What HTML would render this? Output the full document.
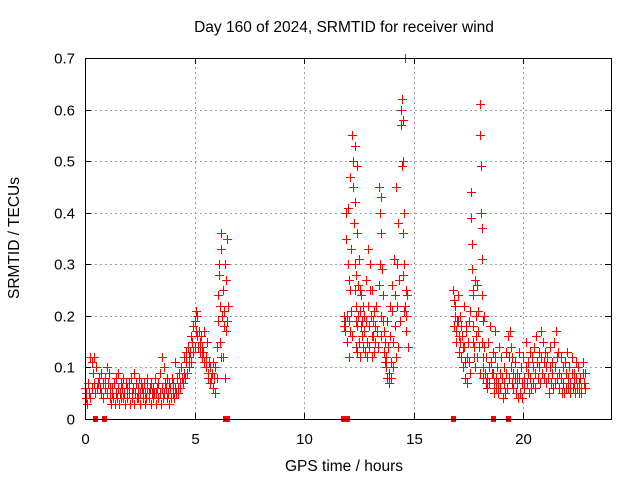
<!DOCTYPE html>
<html><head><meta charset="utf-8"><style>
html,body{margin:0;padding:0;background:#fff;}
svg{display:block;font-family:"Liberation Sans",sans-serif;}
</style></head><body>
<svg id="chart" width="640" height="480" viewBox="0 0 640 480" xmlns="http://www.w3.org/2000/svg">
<rect width="640" height="480" fill="#fff"/>
<text x="344" y="32" font-size="15.5" text-anchor="middle" fill="#000">Day 160 of 2024, SRMTID for receiver wind</text>
<text x="344" y="471" font-size="15.5" text-anchor="middle" fill="#000">GPS time / hours</text>
<text transform="translate(19,238) rotate(-90)" font-size="15.5" text-anchor="middle" fill="#000">SRMTID / TECUs</text>
<g id="grid"></g>
<g id="ticks"></g>
<g id="marks"></g>
<rect x="85.5" y="58.5" width="526" height="361" fill="none" stroke="#000" stroke-width="1"/>
</svg>
<script>
const xTicks = [0,5,10,15,20];
const yTicks = [0,0.1,0.2,0.3,0.4,0.5,0.6,0.7];
const yTickLabels = ["0","0.1","0.2","0.3","0.4","0.5","0.6","0.7"];
const sampleTimes = [0.0,0.1,0.2,0.3,0.4,0.5,0.6,0.7,0.8,0.9,1.0,1.1,1.2,1.3,1.4,1.5,1.6,1.7,1.8,1.9,2.0,2.1,2.2,2.3,2.4,2.5,2.6,2.7,2.8,2.9,3.0,3.1,3.2,3.3,3.4,3.5,3.6,3.7,3.8,3.9,4.0,4.1,4.2,4.3,4.4,4.5,4.6,4.7,4.8,4.9,5.0,5.1,5.2,5.3,5.4,5.5,5.6,5.7,5.8,5.9,6.0,6.1,6.2,6.3,6.4,6.5,
11.8,11.9,12.0,12.1,12.2,12.3,12.4,12.5,12.6,12.7,12.8,12.9,13.0,13.1,13.2,13.3,13.4,13.5,13.6,13.7,13.8,13.9,14.0,14.1,14.2,14.3,14.4,14.5,14.6,14.7,
16.8,16.9,17.0,17.1,17.2,17.3,17.4,17.5,17.6,17.7,17.8,17.9,18.0,18.1,18.2,18.3,18.4,18.5,18.6,18.7,18.8,18.9,19.0,19.1,19.2,19.3,19.4,19.5,19.6,19.7,19.8,19.9,20.0,20.1,20.2,20.3,20.4,20.5,20.6,20.7,20.8,20.9,21.0,21.1,21.2,21.3,21.4,21.5,21.6,21.7,21.8,21.9,22.0,22.1,22.2,22.3,22.4,22.5,22.6,22.7,22.8];
const sampleValues = [
[.06,.04,.05],[.03,.07],[.05,.12,.04],[.11,.06,.09],[.12,.07,.05],[.10,.06],[.07,.08],[.06,.09,.05],[.07,.04],[.06,.08],[.10,.05,.07],[.09,.04,.06],[.03,.06,.05],[.04,.07,.03],[.05,.08,.04],[.06,.09,.03],[.05,.07,.04],[.06,.04,.08],[.05,.03,.07],[.06,.04],[.05,.07,.03],[.08,.05,.04],[.06,.03,.09],[.05,.07,.04],[.04,.06,.08],[.05,.03,.07],[.06,.04,.05],[.07,.03,.05],[.04,.06,.08],[.05,.04,.06],[.03,.07,.05],[.06,.04,.05],[.08,.05,.03],[.06,.04,.07],[.09,.05,.03],[.12,.06,.04],[.10,.05,.07],[.06,.04,.08],[.05,.07,.03],[.06,.04,.08],[.07,.05,.04],[.11,.06,.05],[.08,.06,.05],[.09,.07,.06],[.10,.08,.07],[.12,.09,.08],[.11,.13,.09],[.14,.10,.12],[.13,.16,.11],[.15,.18,.13],[.19,.14,.21,.17],[.20,.16,.14],[.17,.15,.13],[.16,.12,.14],[.13,.11,.17],[.10,.12,.15],[.09,.08,.11],[.07,.10,.08],[.09,.06,.11],[.08,.10,.05],[.14,.08,.19,.24],[.28,.30,.22,.15,.12],[.33,.36,.20,.12],[.25,.18,.21,.08],[.30,.27,.17,.19],[.35,.22],
[.18,.20,.17,.19],[.35,.40,.20,.15,.30,.12],[.41,.27,.19,.17,.25],[.47,.33,.21,.16],[.55,.50,.45,.38,.30,.25,.19,.14],[.53,.42,.28,.22,.18,.13],[.49,.36,.26,.20,.15,.12],[.31,.25,.21,.18],[.24,.19,.16,.14],[.22,.20,.17,.13],[.27,.19,.15,.12],[.33,.22,.18,.14],[.30,.25,.20,.16,.12],[.25,.19,.16,.13],[.21,.18,.15],[.22,.17,.14],[.26,.45,.40,.30,.20,.16],[.43,.36,.29,.19],[.24,.17,.13,.11],[.15,.12,.10,.08],[.19,.14,.09,.07],[.22,.16,.11,.08],[.26,.21,.15,.10],[.31,.24,.18,.12],[.45,.30,.22,.14],[.38,.27,.19],[.57,.60,.62,.49,.36,.28,.21],[.58,.50,.40,.30,.22,.17],[.70,.25,.20],[.24,.14],
[.25,.23,.18,.20],[.22,.17,.15,.19],[.24,.19,.16,.13],[.20,.15,.12,.18],[.16,.14,.10,.22],[.14,.11,.08,.18],[.17,.12,.07,.15],[.19,.11,.09,.21],[.44,.39,.34,.29,.25,.15,.12],[.24,.18,.14,.10],[.27,.20,.16,.12],[.26,.21,.17,.14,.09],[.61,.55,.49,.40,.37,.31,.19,.12],[.24,.15,.10,.08],[.20,.14,.09,.07],[.12,.08,.06],[.15,.10,.07],[.18,.11,.09],[.13,.09,.07,.05],[.17,.12,.08,.06],[.10,.07,.05],[.14,.09,.06],[.12,.08,.04],[.10,.07,.05],[.13,.09,.06],[.16,.12,.08],[.17,.14,.10,.07],[.12,.09,.06],[.11,.08,.05],[.09,.07,.04],[.13,.08,.05],[.10,.07,.04],[.12,.08,.06],[.15,.10,.07],[.11,.09,.05],[.13,.08,.06],[.12,.10,.07],[.14,.09,.06],[.16,.11,.08],[.13,.10,.07],[.17,.12,.09],[.15,.11,.08],[.13,.10,.07],[.12,.08,.05],[.14,.10,.07],[.11,.09,.06],[.15,.10,.07],[.17,.12,.08],[.13,.09,.06],[.12,.08,.05],[.10,.07,.05],[.11,.09,.06],[.13,.08,.06],[.10,.07,.05],[.12,.09,.06],[.09,.07,.05],[.11,.08,.06],[.10,.07,.05],[.08,.06,.05],[.11,.09,.07],[.09,.06]];
const zeroTimes = [0.45,0.85,6.4,6.5,11.75,11.85,11.95,16.8,18.6,19.3];

const X0=85, X1=611, Y0=419, Y1=58, XMAX=24, YMAX=0.7;
function xs(t){return X0+(t/XMAX)*(X1-X0);}
function ys(v){return Y0-(v/YMAX)*(Y0-Y1);}
function px(n){return Math.round(n)+0.5;}
const NS="http://www.w3.org/2000/svg";
const grid=document.getElementById('grid'), ticks=document.getElementById('ticks'), marks=document.getElementById('marks');
function mk(tag,attrs,parent){const e=document.createElementNS(NS,tag);for(const k in attrs)e.setAttribute(k,attrs[k]);parent.appendChild(e);return e;}

xTicks.forEach(t=>{
  const x=px(xs(t));
  if(t>0){const g=mk('line',{x1:x,y1:Y0,x2:x,y2:Y1,stroke:'#a0a0a0','stroke-dasharray':'2,3'},grid);
  
  }
  mk('line',{x1:x,y1:Y0,x2:x,y2:Y0-6,stroke:'#000'},ticks);
  mk('line',{x1:x,y1:Y1,x2:x,y2:Y1+6,stroke:'#000'},ticks);
  const l=mk('text',{x:x,y:Y0+25,'font-size':15,'text-anchor':'middle',fill:'#000'},ticks);
  l.textContent=String(t);
  
  
});
yTicks.forEach((v,i)=>{
  const y=px(ys(v));
  if(v>0&&v<YMAX){const g=mk('line',{x1:X0,y1:y,x2:X1,y2:y,stroke:'#a0a0a0','stroke-dasharray':'2,3'},grid);
  
  }
  mk('line',{x1:X0,y1:y,x2:X0+6,y2:y,stroke:'#000'},ticks);
  mk('line',{x1:X1,y1:y,x2:X1-6,y2:y,stroke:'#000'},ticks);
  const l=mk('text',{x:X0-10,y:y+5,'font-size':15,'text-anchor':'end',fill:'#000'},ticks);
  l.textContent=yTickLabels[i];
  
  
});
let d='';
sampleTimes.forEach((t,i)=>{
  sampleValues[i].forEach((v,j)=>{
    const x=Math.round(xs(t+j*0.025)), y=Math.round(ys(v));
    d+='M'+(x-4)+' '+y+'h9v1h-9zM'+x+' '+(y-4)+'h1v9h-1z';
  });
});
const p=mk('path',{d:d,fill:'#ff0000',stroke:'none','shape-rendering':'crispEdges'},marks);


zeroTimes.forEach(t=>{
  const r=mk('rect',{x:Math.round(xs(t))-2,y:Y0-3,width:5,height:6,fill:'#ff0000'},marks);
  
  
});
</script>
</body></html>
